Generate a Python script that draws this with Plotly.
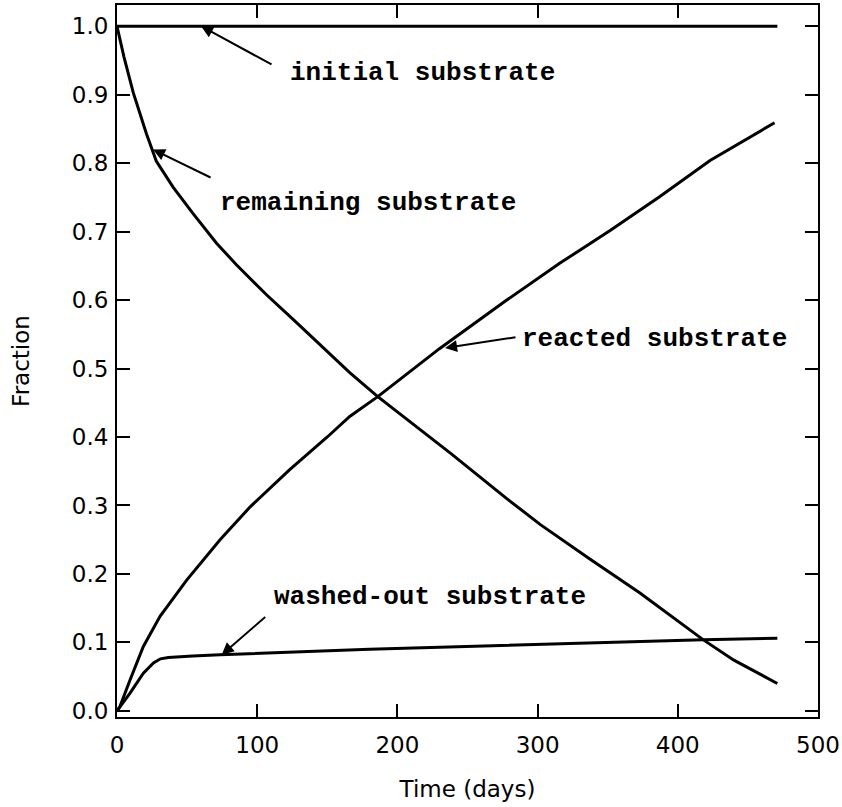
import plotly.graph_objects as go

# ---- data ----
time_initial = [0, 471]
initial = [1.0, 1.0]

time_remaining = [0, 5, 11.6, 21, 28, 40, 54, 71, 85, 107, 126, 145, 166, 186, 210, 238, 278, 302, 337, 373, 418, 440, 471]
remaining = [1.0, 0.955, 0.903, 0.843, 0.803, 0.765, 0.727, 0.683, 0.652, 0.607, 0.571, 0.534, 0.494, 0.459, 0.421, 0.376, 0.31, 0.272, 0.222, 0.172, 0.104, 0.074, 0.040]

time_reacted = [0, 2, 9.3, 18.8, 30.7, 42.6, 49.7, 73.5, 95, 123, 150, 166, 186, 230, 278, 316, 352, 387, 423, 469]
reacted = [0, 0.006, 0.045, 0.094, 0.138, 0.172, 0.191, 0.25, 0.298, 0.352, 0.40, 0.43, 0.459, 0.529, 0.60, 0.654, 0.702, 0.751, 0.804, 0.859]

time_washed = [0, 9.3, 18.8, 26, 31, 36.6, 54, 73.5, 180, 344, 418, 471]
washed = [0, 0.026, 0.055, 0.070, 0.076, 0.078, 0.080, 0.082, 0.090, 0.100, 0.104, 0.106]

x_ticks = [0, 100, 200, 300, 400, 500]
y_ticks = [0.0, 0.1, 0.2, 0.3, 0.4, 0.5, 0.6, 0.7, 0.8, 0.9, 1.0]
y_tick_labels = ["0.0", "0.1", "0.2", "0.3", "0.4", "0.5", "0.6", "0.7", "0.8", "0.9", "1.0"]

labels = ["initial substrate", "remaining substrate", "reacted substrate", "washed-out substrate"]
label_pos = [(122, 0.932), (72, 0.742), (287.4, 0.543), (110.6, 0.167)]
arrow_tip = [(60, 1.0), (25.7, 0.820), (234, 0.530), (74.7, 0.082)]
arrow_tail = [(111.3, 0.943), (67.8, 0.778), (285.3, 0.546), (106.8, 0.139)]

fig = go.Figure()
line_style = dict(color="black", width=3)
for tx, ty in [(time_initial, initial), (time_remaining, remaining),
               (time_reacted, reacted), (time_washed, washed)]:
    fig.add_trace(go.Scatter(x=tx, y=ty, mode="lines", line=line_style,
                             showlegend=False, hoverinfo="skip"))

for text, (lx, ly) in zip(labels, label_pos):
    fig.add_annotation(x=lx, y=ly, xref="x", yref="y", text="<b>" + text + "</b>",
                       showarrow=False, xanchor="left", yanchor="middle",
                       font=dict(family="Liberation Mono, Courier New, monospace", size=26, color="black"))

for (hx, hy), (tx, ty) in zip(arrow_tip, arrow_tail):
    fig.add_annotation(x=hx, y=hy, ax=tx, ay=ty, xref="x", yref="y", axref="x", ayref="y",
                       text="", showarrow=True, arrowhead=2, arrowsize=1.2, arrowwidth=2,
                       arrowcolor="black")

axis_common = dict(showline=True, linecolor="black", linewidth=2, mirror="ticks",
                   ticks="inside", ticklen=13, tickwidth=2, tickcolor="black",
                   showgrid=False, zeroline=False, automargin=False,
                   tickfont=dict(family="DejaVu Sans", size=23, color="black"))

fig.update_xaxes(range=[0, 500], tickvals=x_ticks, ticktext=[str(v) for v in x_ticks],
                 ticklabelstandoff=6,
                 title=dict(text="Time (days)", font=dict(family="DejaVu Sans", size=23, color="black"), standoff=24),
                 **axis_common)
fig.update_yaxes(range=[-0.009, 1.031], tickvals=y_ticks, ticktext=y_tick_labels,
                 ticklabelstandoff=2,
                 title=dict(text="Fraction", font=dict(family="DejaVu Sans", size=23, color="black"), standoff=36),
                 **axis_common)

fig.update_layout(width=842, height=807, margin=dict(l=117, r=24, t=5, b=90),
                  plot_bgcolor="white", paper_bgcolor="white")

fig.write_html("out.html", config={"displayModeBar": False},
               post_script="document.body.style.margin='0';")
